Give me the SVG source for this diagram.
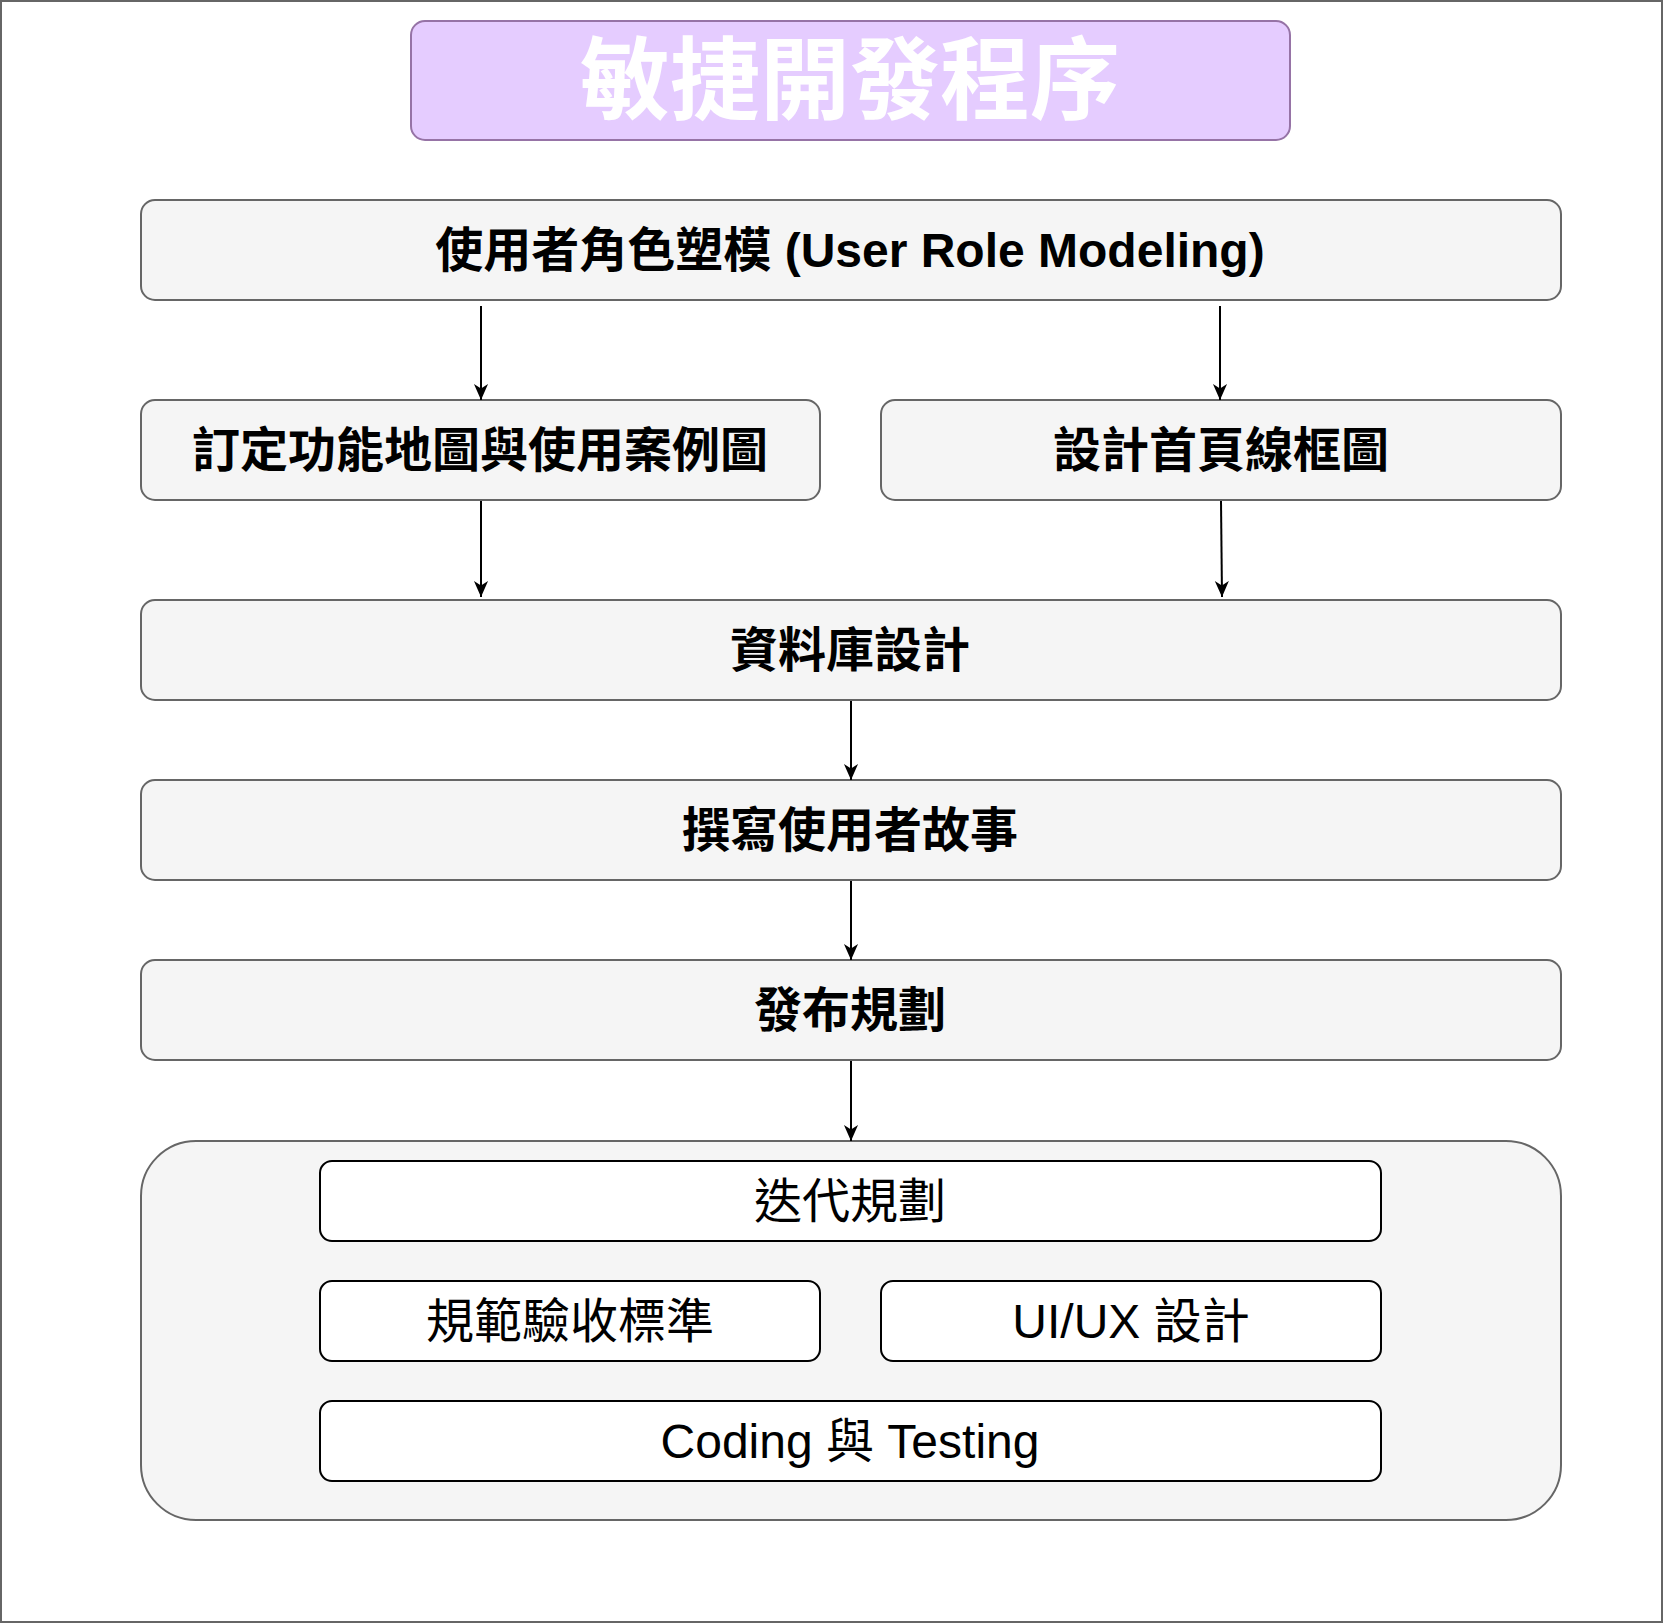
<svg xmlns="http://www.w3.org/2000/svg" width="1664" height="1624" viewBox="0 0 1664 1624">
<defs>
<marker id="arr" viewBox="0 0 10 10" refX="10" refY="5" markerWidth="16" markerHeight="16" markerUnits="userSpaceOnUse" orient="auto">
<path d="M0,0.6 L10,5 L0,9.4 L2.8,5 Z" fill="#000"/>
</marker>
<style>
.step{fill:#f5f5f5;stroke:#666666;stroke-width:2}
.sub{fill:#ffffff;stroke:#000000;stroke-width:2}
.tb{font-family:"Liberation Sans","Noto Sans CJK TC",sans-serif;font-weight:bold;font-size:48px;fill:#000;text-anchor:middle}
.tn{font-family:"Liberation Sans","Noto Sans CJK TC",sans-serif;font-size:48px;fill:#000;text-anchor:middle}
.edge{stroke:#000;stroke-width:2;fill:none;marker-end:url(#arr)}
</style>
</defs>
<rect x="0" y="0" width="1664" height="1624" fill="#ffffff"/>
<rect x="1" y="1" width="1661" height="1621" fill="none" stroke="#666666" stroke-width="2"/>

<g id="title">
<rect x="411" y="21" width="879" height="119" rx="14" fill="#e5ccff" stroke="#9673a6" stroke-width="2"/>
<text x="850" y="112" font-family="'Noto Sans CJK TC',sans-serif" font-weight="bold" font-size="90" fill="#ffffff" text-anchor="middle">敏捷開發程序</text>
</g>

<g id="n1">
<rect class="step" x="141" y="200" width="1420" height="100" rx="14"/>
<text class="tb" x="850" y="267">使用者角色塑模 (User Role Modeling)</text>
</g>
<g id="n2a">
<rect class="step" x="141" y="400" width="679" height="100" rx="14"/>
<text class="tb" x="480" y="467">訂定功能地圖與使用案例圖</text>
</g>
<g id="n2b">
<rect class="step" x="881" y="400" width="680" height="100" rx="14"/>
<text class="tb" x="1221" y="467">設計首頁線框圖</text>
</g>
<g id="n3">
<rect class="step" x="141" y="600" width="1420" height="100" rx="14"/>
<text class="tb" x="850" y="667">資料庫設計</text>
</g>
<g id="n4">
<rect class="step" x="141" y="780" width="1420" height="100" rx="14"/>
<text class="tb" x="850" y="847">撰寫使用者故事</text>
</g>
<g id="n5">
<rect class="step" x="141" y="960" width="1420" height="100" rx="14"/>
<text class="tb" x="850" y="1027">發布規劃</text>
</g>
<g id="container">
<rect class="step" x="141" y="1141" width="1420" height="379" rx="55"/>
</g>
<g id="s1">
<rect class="sub" x="320" y="1161" width="1061" height="80" rx="12"/>
<text class="tn" x="850" y="1218">迭代規劃</text>
</g>
<g id="s2">
<rect class="sub" x="320" y="1281" width="500" height="80" rx="12"/>
<text class="tn" x="570" y="1338">規範驗收標準</text>
</g>
<g id="s3">
<rect class="sub" x="881" y="1281" width="500" height="80" rx="12"/>
<text class="tn" x="1131" y="1338">UI/UX 設計</text>
</g>
<g id="s4">
<rect class="sub" x="320" y="1401" width="1061" height="80" rx="12"/>
<text class="tn" x="850" y="1458">Coding 與 Testing</text>
</g>

<g id="connectors">
<line class="edge" x1="481" y1="306" x2="481" y2="400"/>
<line class="edge" x1="1220" y1="306" x2="1220" y2="400"/>
<line class="edge" x1="481" y1="501" x2="481" y2="597"/>
<line class="edge" x1="1221" y1="501" x2="1222" y2="597"/>
<line class="edge" x1="851" y1="701" x2="851" y2="780"/>
<line class="edge" x1="851" y1="881" x2="851" y2="960"/>
<line class="edge" x1="851" y1="1061" x2="851" y2="1141"/>
</g>
</svg>
